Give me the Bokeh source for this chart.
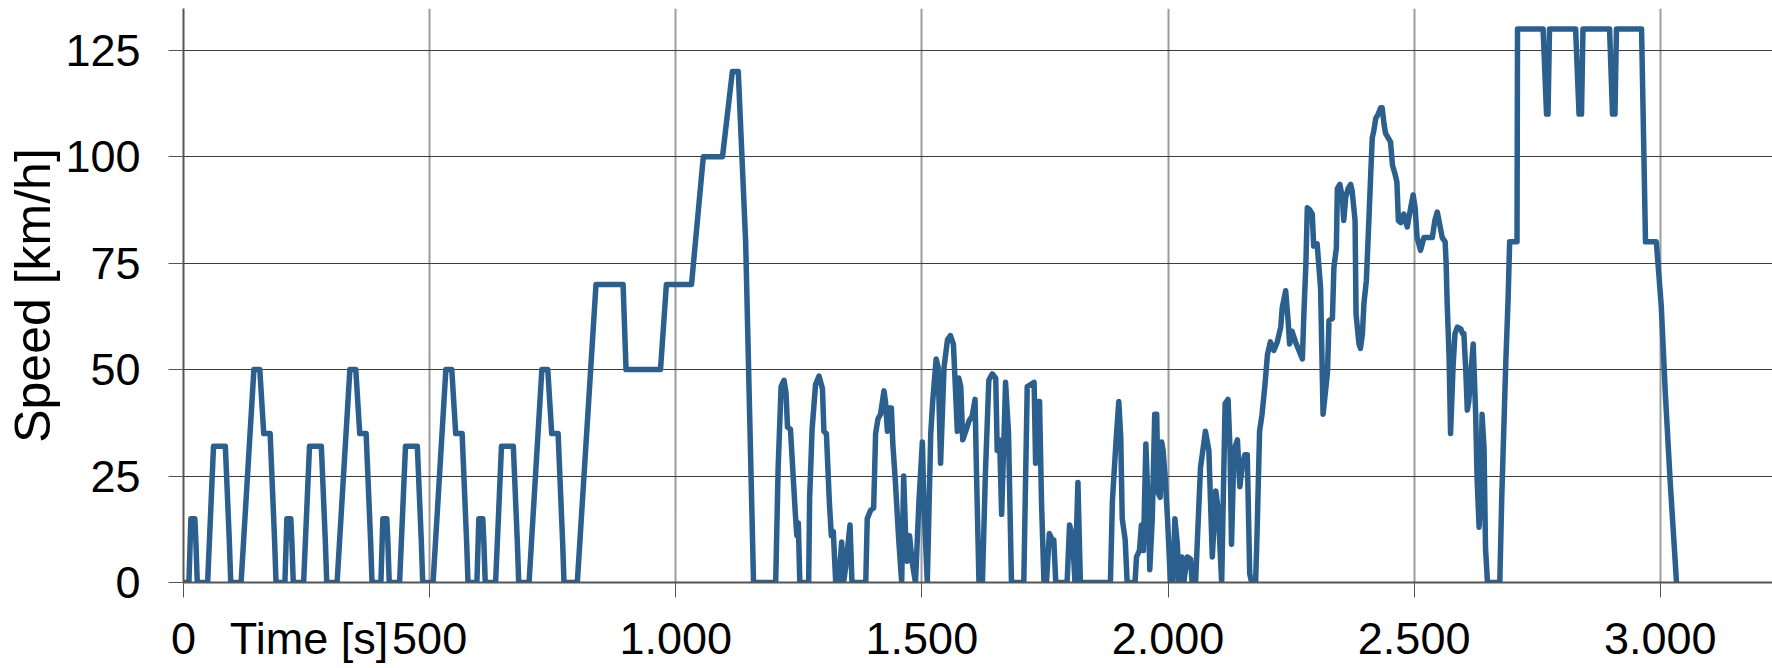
from bokeh.plotting import figure
from bokeh.models import Range1d, FixedTicker
from bokeh.embed import file_html
from bokeh.resources import INLINE

# ---- data ----
time_s = [
    # ECE urban cycles
    0, 11, 15, 23, 25, 28, 49, 61, 85, 93, 96, 117, 143, 155, 163, 176, 185, 188,
    195, 206, 210, 218, 220, 223, 244, 256, 280, 288, 291, 312, 338, 350, 358, 371, 380, 383,
    390, 401, 405, 413, 415, 418, 439, 451, 475, 483, 486, 507, 533, 545, 553, 566, 575, 578,
    585, 596, 600, 608, 610, 613, 634, 646, 670, 678, 681, 702, 728, 740, 748, 761, 770, 773,
    # extra-urban part
    800, 838, 893, 899, 969, 981, 1032, 1056, 1095, 1115, 1127, 1142, 1158,
    # urban / rural / motorway part
    1203, 1208, 1214, 1220, 1224, 1227, 1233, 1239, 1243, 1246, 1249, 1252, 1270, 1272,
    1277, 1284, 1291, 1298, 1301, 1306, 1312, 1316, 1320, 1325, 1331, 1337, 1341, 1345,
    1354, 1358, 1386, 1389, 1396, 1402, 1406, 1411, 1416, 1423, 1426, 1430, 1433, 1438,
    1441, 1446, 1453, 1459, 1463, 1467, 1470, 1475, 1480, 1487, 1494, 1501, 1504, 1511,
    1518, 1522, 1529, 1533, 1538, 1545, 1552, 1558, 1564, 1568, 1572, 1575, 1579, 1583,
    1589, 1596, 1602, 1608, 1611, 1616, 1623, 1629, 1636, 1643, 1650, 1653, 1658, 1662,
    1667, 1670, 1676, 1682, 1707, 1714, 1721, 1728, 1731, 1737, 1739, 1743, 1748, 1753,
    1759, 1765, 1768, 1772, 1795, 1800, 1806, 1811, 1817, 1822, 1883, 1887, 1894, 1900,
    1904, 1907, 1913, 1917, 1933, 1936, 1942, 1946, 1950, 1955, 1960, 1963, 1968, 1973,
    1977, 1980, 1984, 1987, 1990, 1994, 1999, 2005, 2010, 2014, 2019, 2022, 2028, 2032,
    2039, 2046, 2049, 2056, 2066, 2076, 2083, 2090, 2097, 2102, 2109, 2116, 2122, 2126,
    2129, 2134, 2141, 2146, 2151, 2156, 2161, 2166, 2170, 2178, 2181, 2186, 2191, 2197,
    2202, 2208, 2215, 2222, 2229, 2232, 2239, 2244, 2247, 2252, 2259, 2266, 2273, 2276,
    2280, 2283, 2288, 2293, 2296, 2303, 2310, 2315, 2320, 2324, 2327, 2334, 2337, 2342,
    2344, 2349, 2354, 2357, 2361, 2366, 2371, 2374, 2380, 2382, 2388, 2391, 2395, 2398,
    2403, 2408, 2412, 2415, 2418, 2422, 2427, 2432, 2435, 2439, 2442, 2447, 2452, 2456,
    2461, 2465, 2468, 2473, 2479, 2486, 2493, 2498, 2502, 2506, 2513, 2520, 2537, 2542,
    2547, 2553, 2557, 2563, 2565, 2567, 2571, 2574, 2579, 2583, 2588, 2595, 2598, 2601,
    2605, 2608, 2611, 2615, 2620, 2625, 2628, 2632, 2635, 2638, 2642, 2645, 2649, 2674,
    2678, 2681, 2686, 2691, 2694, 2709, 2710, 2762, 2769, 2772, 2775, 2828, 2835, 2840,
    2843, 2897, 2903, 2908, 2911, 2962, 2970, 2992, 3002, 3010, 3020, 3033,
]
speed_kmh = [
    0, 0, 15, 15, 10, 0, 0, 32, 32, 10, 0, 0, 50, 50, 35, 35, 10, 0,
    0, 0, 15, 15, 10, 0, 0, 32, 32, 10, 0, 0, 50, 50, 35, 35, 10, 0,
    0, 0, 15, 15, 10, 0, 0, 32, 32, 10, 0, 0, 50, 50, 35, 35, 10, 0,
    0, 0, 15, 15, 10, 0, 0, 32, 32, 10, 0, 0, 50, 50, 35, 35, 10, 0,
    0, 70, 70, 50, 50, 70, 70, 100, 100, 120, 120, 80, 0,
    0, 27, 46, 47.5, 44.5, 36.5, 36, 24, 16, 11, 14, 0, 0, 20,
    36, 46.5, 48.5, 45.5, 35.5, 35, 19, 11, 12, 0, 0, 9.5, 0, 3.5,
    13.5, 0, 0, 15, 17, 17.5, 35, 38.5, 39.5, 45, 42.5, 35.5, 41, 41,
    32.5, 24, 10, 0, 25, 11, 5, 11, 5, 0, 19, 33, 19, 0,
    35, 42.5, 52.5, 50.5, 28, 50.5, 57, 58, 56, 46, 35.5, 48, 46, 33.5,
    35.5, 38, 39, 43, 25.5, 0, 0, 25.5, 47.5, 49, 48, 31, 33.5, 16,
    35, 47, 35, 0, 0, 46, 46.5, 47, 28, 42.5, 42.5, 19, 0, 0,
    11.5, 10, 10, 0, 0, 13.5, 11, 0, 23.5, 0, 0, 19, 32.5, 42.5,
    34, 15, 10, 0, 0, 6, 7.5, 13.5, 7.5, 32.5, 17, 3, 15, 39.5,
    39.5, 21, 20, 33, 31, 25, 15, 0, 0, 15, 9, 0, 6, 0,
    6, 5.5, 0, 0, 27, 35.5, 31, 6, 21.5, 17, 0, 42, 43, 31,
    9, 31, 33.5, 22.5, 27.5, 30, 30, 2, 0, 0, 12, 35.5, 39.5, 46.5,
    53.5, 56.5, 54.5, 56.5, 60, 64.5, 68.5, 61.5, 56, 59, 56.5, 54.5, 52.5, 63,
    74.5, 88, 87.5, 86.5, 79, 79.5, 69, 39.5, 45, 49.5, 61.5, 62, 74, 78.5,
    92.5, 93.5, 90.5, 85, 90.5, 92.5, 93.5, 92, 85, 63, 56, 55, 58.5, 65.5,
    71, 85, 96.5, 104.5, 106, 109, 110, 111.5, 111.5, 107.5, 105.5, 104.5, 103.5, 98,
    96, 94, 85, 84.5, 86.5, 83.5, 88, 91, 88, 81, 78, 81, 81, 85,
    87, 83.5, 81, 80, 75, 66, 53, 35, 50.5, 58.5, 60, 59.5, 58.5, 58.5,
    49.5, 40.5, 42.5, 49, 56, 39.5, 24, 13, 20, 39.5, 31.5, 8, 0, 0,
    20, 31.5, 51, 67, 80, 80, 130, 130, 110, 110, 130, 130, 110, 110,
    130, 130, 110, 110, 130, 130, 80, 80, 65, 45, 24, 0,
]
x_ticks = [0, 500, 1000, 1500, 2000, 2500, 3000]
x_tick_labels = ["0", "500", "1.000", "1.500", "2.000", "2.500", "3.000"]
y_ticks = [0, 25, 50, 75, 100, 125]
x_title = "Time [s]"
y_title = "Speed [km/h]"
X_TITLE_AT = 255   # the x title sits in the tick-label row, right of "0"

FONT = "Liberation Sans"

p = figure(width=1772, height=668, output_backend="svg", toolbar_location=None,
           x_range=Range1d(0, 3228), y_range=Range1d(0, 134.8),
           min_border_left=183, min_border_right=0, min_border_top=8,
           min_border_bottom=86)
p.outline_line_color = None
p.background_fill_color = "white"
p.border_fill_color = "white"

p.line(time_s, speed_kmh, line_color="#2a5f8e", line_width=5.5,
       line_join="round", line_cap="round")

# grids
p.xgrid.ticker = FixedTicker(ticks=x_ticks)
p.ygrid.ticker = FixedTicker(ticks=y_ticks)
p.xgrid.grid_line_color = "#9c9c9c"
p.xgrid.grid_line_width = 2
p.ygrid.grid_line_color = "#3c3c3c"
p.ygrid.grid_line_width = 1

# x axis: labels at the major ticks (incl. the title), tick marks as minor ticks
xa = p.xaxis[0]
xa.ticker = FixedTicker(ticks=x_ticks + [X_TITLE_AT], minor_ticks=x_ticks)
overrides = dict(zip(x_ticks, x_tick_labels))
overrides[X_TITLE_AT] = x_title
xa.major_label_overrides = overrides
xa.major_tick_out = 0
xa.major_tick_in = 0
xa.minor_tick_out = 15
xa.minor_tick_in = 0
xa.minor_tick_line_color = "#555555"
xa.minor_tick_line_width = 1
xa.axis_line_color = "#555555"
xa.axis_line_width = 2
xa.major_label_text_font = FONT
xa.major_label_text_font_size = "45px"
xa.major_label_text_color = "black"
xa.major_label_standoff = 15

# y axis
ya = p.yaxis[0]
ya.ticker = FixedTicker(ticks=y_ticks)
ya.major_tick_out = 15
ya.major_tick_in = 0
ya.minor_tick_out = 0
ya.minor_tick_in = 0
ya.major_tick_line_color = "#555555"
ya.axis_line_color = "#555555"
ya.axis_line_width = 2
ya.major_label_text_font = FONT
ya.major_label_text_font_size = "45px"
ya.major_label_text_color = "black"
ya.major_label_standoff = 28
ya.axis_label = y_title
ya.axis_label_text_font = FONT
ya.axis_label_text_font_size = "50px"
ya.axis_label_text_font_style = "normal"
ya.axis_label_text_color = "black"
ya.axis_label_standoff = 1

open("out.html", "w").write(file_html(p, INLINE))
